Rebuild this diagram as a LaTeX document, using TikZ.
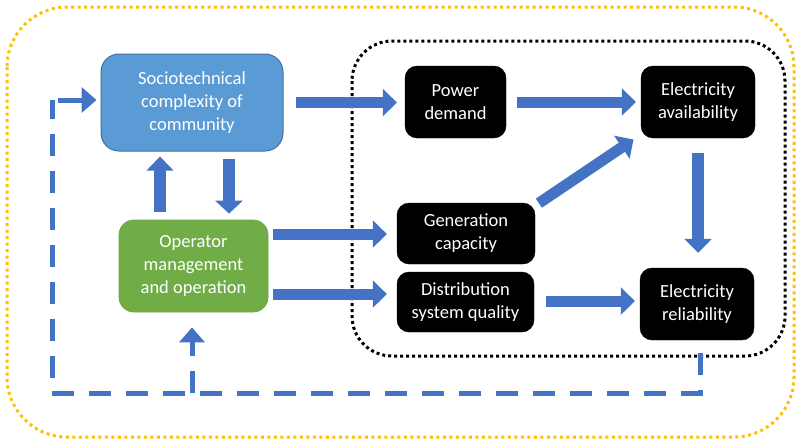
\documentclass[tikz,border=0pt]{standalone}
\usepackage{fontspec}
\setmainfont{Carlito}
\usetikzlibrary{arrows.meta,calc}
\definecolor{sociofill}{HTML}{5B9BD5}
\definecolor{socioline}{HTML}{41719C}
\definecolor{opfill}{HTML}{70AD47}
\definecolor{opline}{HTML}{6AA443}
\definecolor{arrowblue}{HTML}{4472C4}
\definecolor{outerdot}{HTML}{FFC000}
\tikzset{
  boxtext/.style={text=white, align=center, inner sep=0pt,
    font=\fontsize{18.5}{23}\selectfont},
  sociobox/.style={boxtext, fill=sociofill, draw=socioline, line width=1pt,
    rounded corners=18pt},
  opbox/.style={boxtext, fill=opfill, draw=opline, line width=0.8pt,
    rounded corners=15pt},
  blackbox/.style={boxtext, fill=black, draw=black, rounded corners=12pt},
  barrow/.style={draw=arrowblue, line width=11pt,
    -{Triangle[length=14pt,width=27pt]}},
  fbline/.style={draw=arrowblue, line width=5pt, dash pattern=on 22pt off 15pt},
  fbtip/.style={-{Triangle[length=15pt,width=25pt]}},
  outerframe/.style={draw=outerdot, line width=3pt, dash pattern=on 3pt off 3.5pt,
    rounded corners=60pt},
  innerframe/.style={draw=black, line width=3pt, dash pattern=on 3pt off 3pt,
    rounded corners=40pt}
}
\begin{document}
\begin{tikzpicture}[x=1pt,y=-1pt]
\useasboundingbox (0,0) rectangle (797,442);
\draw[outerframe] (7,7) rectangle (794,437);
\draw[innerframe] (352,41) rectangle (785,356);

\node[sociobox, minimum width=182pt, minimum height=97pt] (socio) at (192,102.5)
  {Sociotechnical\\complexity of\\community};
\node[opbox, minimum width=149pt, minimum height=92pt] (op) at (193.5,266)
  {Operator\\management\\and operation};
\node[blackbox, minimum width=101pt, minimum height=72pt] (pd) at (455.5,102)
  {Power\\demand};
\node[blackbox, minimum width=114pt, minimum height=72pt] (avail) at (698,102)
  {Electricity\\availability};
\node[blackbox, minimum width=138pt, minimum height=61pt] (gen) at (466,233.5)
  {Generation\\capacity};
\node[blackbox, minimum width=137pt, minimum height=60pt] (dist) at (465.5,302)
  {Distribution\\system quality};
\node[blackbox, minimum width=114pt, minimum height=72pt] (rel) at (697,304)
  {Electricity\\reliability};

% arrow helper coordinates
\coordinate (ux) at (160,0);
\coordinate (dx) at (229,0);
\coordinate (ya) at (0,234);
\coordinate (yb) at (0,294);
\coordinate (yc) at (0,301);

\draw[barrow, shorten <=12pt, shorten >=8pt] (socio.east) -- (socio.east -| pd.west);
\draw[barrow, shorten <=11pt, shorten >=5pt] (pd.east) -- (pd.east -| avail.west);
\draw[barrow, shorten <=2pt, shorten >=4pt] ($(gen.north east)+(2,1.5)$) -- ($(avail.south west)+(-4,-1)$);
\draw[barrow, line width=12pt, shorten <=15pt, shorten >=15pt] (avail.south) -- (avail.south |- rel.north);
\draw[barrow, shorten <=12pt, shorten >=5pt] (dist.east |- yc) -- (rel.west |- yc);
\draw[barrow, shorten <=5pt, shorten >=10pt] (op.east |- ya) -- (gen.west |- ya);
\draw[barrow, shorten <=5pt, shorten >=10pt] (op.east |- yb) -- (dist.west |- yb);
\draw[barrow, line width=12pt, -{Triangle[length=14pt,width=26pt]}, shorten <=8pt, shorten >=5pt]
  (op.north -| ux) -- (socio.south -| ux);
\draw[barrow, line width=12pt, -{Triangle[length=13pt,width=27pt]}, shorten <=7pt, shorten >=6pt]
  (socio.south -| dx) -- (op.north -| dx);

% feedback loop
\coordinate (f1) at (700,353);
\coordinate (f2) at (700,393);
\coordinate (f3) at (52,393);
\coordinate (f4) at (52,100);
\coordinate (f5) at (58,100);
\coordinate (b1) at (192,393);
\draw[fbline] (f1) -- (f2) -- (f3) -- (f4);
\draw[fbline, solid, fbtip, shorten >=4pt] (f5) -- (f5 -| socio.west);
\draw[fbline, fbtip, shorten >=15pt] (b1) -- (b1 |- op.south);
\end{tikzpicture}
\end{document}
